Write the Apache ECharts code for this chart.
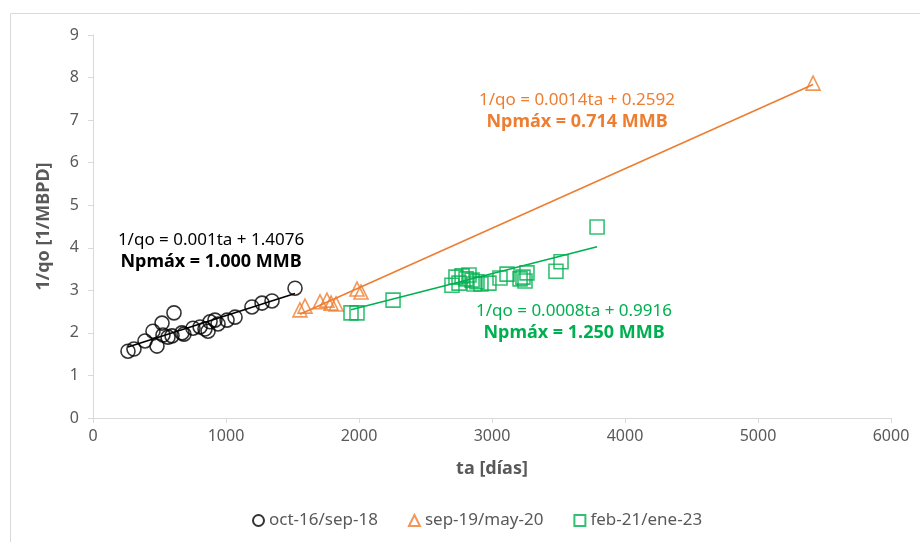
<!DOCTYPE html>
<html>
<head>
<meta charset="utf-8">
<script src="https://cdn.jsdelivr.net/npm/echarts@6/dist/echarts.min.js"></script>
<style>
html,body{margin:0;padding:0;background:#fff;}
#chart{width:920px;height:542px;}
</style>
</head>
<body>
<div id="chart"></div>
<script>
// ---- Data ----
var seriesNames = ['oct-16/sep-18', 'sep-19/may-20', 'feb-21/ene-23'];

var taBlack = [263, 308, 391, 451, 481, 519, 526, 564, 594, 609, 669, 684, 752, 805, 842, 865, 880, 917, 940, 1008, 1068, 1195, 1271, 1346, 1519];
var qBlack  = [1.57, 1.62, 1.81, 2.04, 1.69, 2.23, 1.95, 1.90, 1.93, 2.47, 2.00, 1.97, 2.11, 2.14, 2.09, 2.04, 2.26, 2.30, 2.21, 2.30, 2.37, 2.61, 2.70, 2.75, 3.05];

var taOrange = [1556, 1594, 1707, 1759, 1790, 1827, 1985, 2015, 5414];
var qOrange  = [2.54, 2.63, 2.73, 2.77, 2.70, 2.68, 3.03, 2.96, 7.87];

var taGreen = [1940, 1985, 2256, 2699, 2729, 2752, 2775, 2805, 2827, 2850, 2865, 2887, 2917, 2977, 3060, 3113, 3211, 3233, 3248, 3263, 3481, 3519, 3790];
var qGreen  = [2.47, 2.47, 2.77, 3.12, 3.31, 3.17, 3.34, 3.27, 3.36, 3.24, 3.15, 3.20, 3.15, 3.17, 3.29, 3.38, 3.27, 3.31, 3.22, 3.41, 3.45, 3.67, 4.49];

// trend line coefficients [slope, intercept]
var trendBlack = [0.001, 1.4076];
var trendOrange = [0.0014, 0.2592];
var trendGreen = [0.0008, 0.9916];

var eqTexts = ['1/qo = 0.001ta + 1.4076', '1/qo = 0.0014ta + 0.2592', '1/qo = 0.0008ta + 0.9916'];
var npTexts = ['Npmáx = 1.000 MMB', 'Npmáx = 0.714 MMB', 'Npmáx = 1.250 MMB'];

var xTicks = {min: 0, max: 6000, interval: 1000};
var yTicks = {min: 0, max: 9, interval: 1};

// ---- Build ----
var colors = ['#000000', '#ED7D31', '#00B050'];
var FONT = 'Noto Sans';

function pairs(xs, ys) { return xs.map(function (x, i) { return [x, ys[i]]; }); }
function trend(xs, c) {
  var mn = Math.min.apply(null, xs), mx = Math.max.apply(null, xs);
  return [[mn, c[0] * mn + c[1]], [mx, c[0] * mx + c[1]]];
}

function scatter(name, data, sym, color) {
  return {
    name: name, type: 'scatter', data: data, symbol: sym, symbolSize: 14,
    itemStyle: {color: 'rgba(255,255,255,0)', borderColor: color, borderWidth: 1.6},
    z: 3
  };
}
function line(data, color) {
  return {
    type: 'line', data: data, showSymbol: false, symbol: 'none', silent: true,
    lineStyle: {color: color, width: 1.6}, z: 2
  };
}

var chart = echarts.init(document.getElementById('chart'));
var labelColor = '#595959';
var axisColor = '#D9D9D9';

chart.setOption({
  animation: false,
  backgroundColor: '#fff',
  textStyle: {fontFamily: FONT},
  grid: {left: 93, right: 29, top: 35, bottom: 124, containLabel: false},
  xAxis: {
    type: 'value', min: xTicks.min, max: xTicks.max, interval: xTicks.interval,
    name: 'ta [días]', nameLocation: 'middle', nameGap: 42,
    nameTextStyle: {fontFamily: FONT, fontSize: 18, fontWeight: 'bold', color: labelColor},
    axisLine: {show: true, onZero: false, lineStyle: {color: axisColor, width: 1}},
    axisTick: {show: true, length: 5, lineStyle: {color: axisColor}},
    axisLabel: {color: labelColor, fontSize: 16, margin: 10, fontFamily: FONT, formatter: function (v) { return String(v); }},
    splitLine: {show: false}
  },
  yAxis: {
    type: 'value', min: yTicks.min, max: yTicks.max, interval: yTicks.interval,
    name: '1/qo [1/MBPD]', nameLocation: 'middle', nameGap: 40,
    nameTextStyle: {fontFamily: FONT, fontSize: 18, fontWeight: 'bold', color: labelColor},
    axisLine: {show: true, lineStyle: {color: axisColor, width: 1}},
    axisTick: {show: true, length: 5, lineStyle: {color: axisColor}},
    axisLabel: {color: labelColor, fontSize: 16, margin: 14, fontFamily: FONT},
    splitLine: {show: false}
  },
  legend: {
    data: seriesNames, bottom: 8, left: 247, itemGap: 30, itemWidth: 11, itemHeight: 11,
    textStyle: {color: labelColor, fontSize: 17, fontFamily: FONT}
  },
  series: [
    scatter(seriesNames[0], pairs(taBlack, qBlack), 'circle', colors[0]),
    scatter(seriesNames[1], pairs(taOrange, qOrange), 'triangle', colors[1]),
    scatter(seriesNames[2], pairs(taGreen, qGreen), 'rect', colors[2]),
    line(trend(taBlack, trendBlack), colors[0]),
    line(trend(taOrange, trendOrange), colors[1]),
    line(trend(taGreen, trendGreen), colors[2])
  ],
  graphic: [
    {type: 'rect', shape: {x: 10.5, y: 13.5, width: 1000, height: 1000}, style: {fill: 'none', stroke: '#D9D9D9', lineWidth: 1}, silent: true, z: 0},
    {type: 'text', x: 211, y: 240, style: {text: eqTexts[0], fill: colors[0], font: '17px "Noto Sans"', textAlign: 'center', textVerticalAlign: 'middle'}},
    {type: 'text', x: 211, y: 262, style: {text: npTexts[0], fill: colors[0], font: 'bold 18px "Noto Sans"', textAlign: 'center', textVerticalAlign: 'middle'}},
    {type: 'text', x: 577, y: 100, style: {text: eqTexts[1], fill: colors[1], font: '17px "Noto Sans"', textAlign: 'center', textVerticalAlign: 'middle'}},
    {type: 'text', x: 577, y: 122, style: {text: npTexts[1], fill: colors[1], font: 'bold 18px "Noto Sans"', textAlign: 'center', textVerticalAlign: 'middle'}},
    {type: 'text', x: 574, y: 311, style: {text: eqTexts[2], fill: colors[2], font: '17px "Noto Sans"', textAlign: 'center', textVerticalAlign: 'middle'}},
    {type: 'text', x: 574, y: 333, style: {text: npTexts[2], fill: colors[2], font: 'bold 18px "Noto Sans"', textAlign: 'center', textVerticalAlign: 'middle'}}
  ]
});
</script>
</body>
</html>
